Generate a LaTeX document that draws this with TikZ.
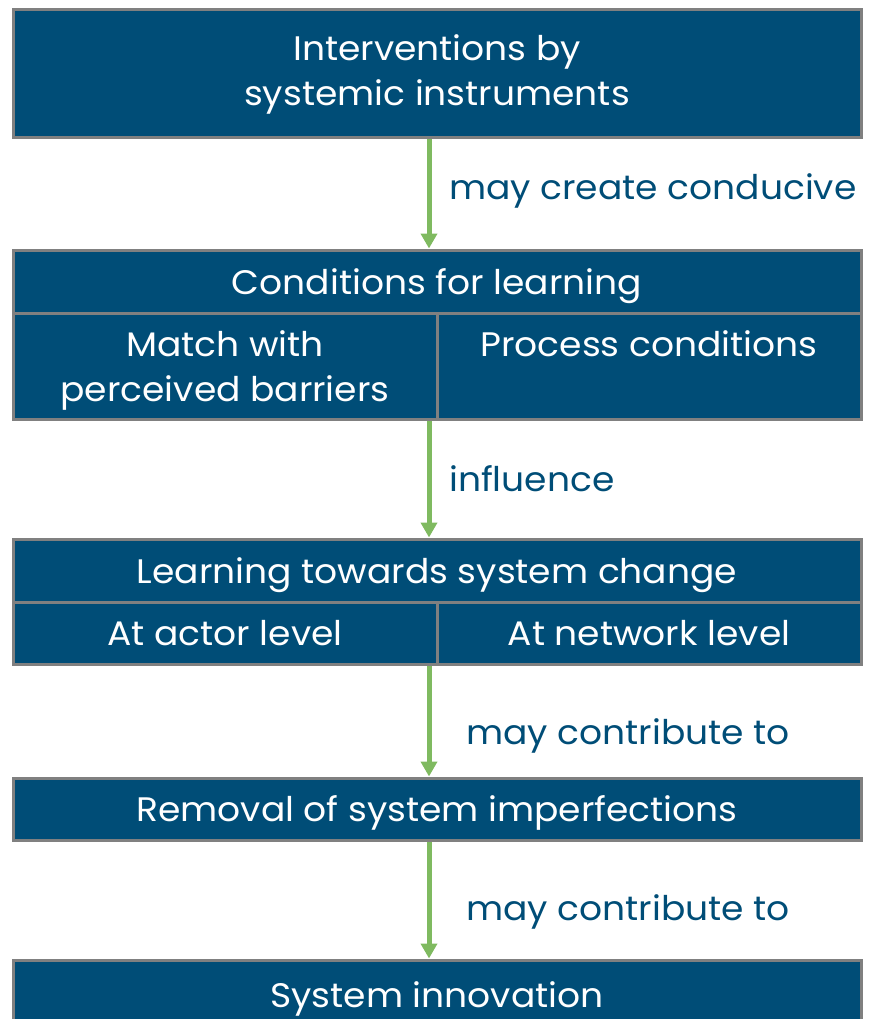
\documentclass[tikz,border=0pt]{standalone}
\usepackage{fontspec}
\setmainfont{Poppins}[FakeStretch=1.06]
\usetikzlibrary{arrows.meta}

\definecolor{boxblue}{RGB}{0,77,119}
\definecolor{boxgray}{RGB}{128,128,128}
\definecolor{flowgreen}{RGB}{127,186,96}

\tikzset{
  box/.style={draw=boxgray, line width=3pt, fill=boxblue, text=white,
    inner sep=0pt, align=center, text depth=0pt,
    font=\fontsize{34}{45}\selectfont},
  flow/.style={draw=flowgreen, line width=5pt,
    -{Triangle[width=16pt,length=15pt]}},
  lbl/.style={anchor=west, text=boxblue, inner sep=0pt,
    font=\fontsize{34}{45}\selectfont}
}

\begin{document}
\begin{tikzpicture}[x=1pt,y=-1pt]
        \useasboundingbox (0,0) rectangle (873,1019);
        \clip (0,0) rectangle (873,1019);
        \node[box, text depth=, minimum width=848pt, minimum height=128pt] (intv) at (437,74) {Interventions by\\systemic instruments};
        \node[box, minimum width=848pt, minimum height=63pt] (cond) at (437,281.5) {Conditions for learning};
        \node[box, minimum width=424pt, minimum height=106pt] (match) at (225,366) {Match with\\perceived barriers};
        \node[box, minimum width=424pt, minimum height=106pt] (proc) at (649,366) {Process conditions\\\strut};
        \node[box, minimum width=848pt, minimum height=63pt] (learn) at (437,570.5) {Learning towards system change};
        \node[box, minimum width=424pt, minimum height=62pt] (actor) at (225,633) {At actor level};
        \node[box, minimum width=424pt, minimum height=62pt] (netw) at (649,633) {At network level};
        \node[box, minimum width=848pt, minimum height=62pt] (remov) at (437,809) {Removal of system imperfections};
        \node[box, minimum width=848pt, minimum height=70pt] (innov) at (437,995) {System innovation};
        % connectors
        \draw[flow] ([xshift=-8pt]intv.south) -- ([xshift=-8pt]cond.north);
        \draw[flow] ([xshift=204pt]match.south) -- ([xshift=-8pt]learn.north);
        \draw[flow] ([xshift=204pt]actor.south) -- ([xshift=-8pt]remov.north);
        \draw[flow] ([xshift=-8pt]remov.south) -- ([xshift=-8pt]innov.north);
        \node[lbl] (l1) at (449,191) {may create conducive};
        \node[lbl] (l2) at (449,479) {influence};
        \node[lbl] (l3) at (466,736) {may contribute to};
        \node[lbl] (l4) at (466,912) {may contribute to};
    \end{tikzpicture}
\end{document}
